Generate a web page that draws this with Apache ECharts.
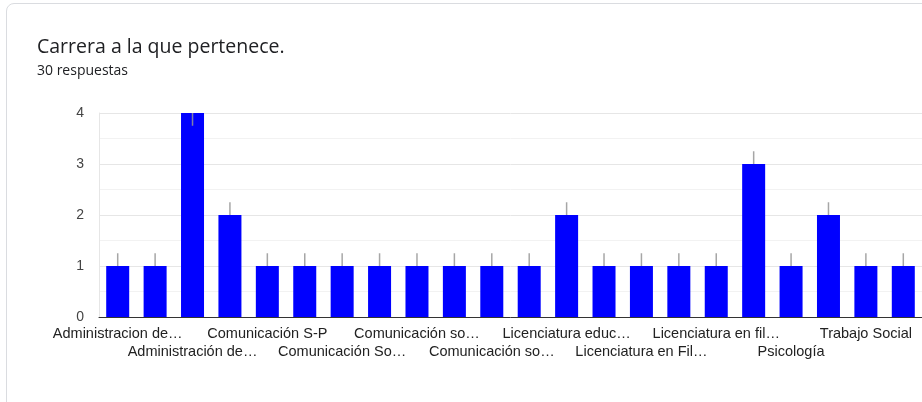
<!DOCTYPE html>
<html lang="es">
<head>
<meta charset="utf-8">
<title>Carrera a la que pertenece.</title>
<script src="https://cdn.jsdelivr.net/npm/echarts@6/dist/echarts.min.js"></script>
<style>
  html, body { margin: 0; padding: 0; background: #ffffff; overflow: hidden; }
  #card {
    position: absolute; left: 6px; top: 3px; width: 940px; height: 420px;
    border: 1px solid #dadce0; border-radius: 8px; box-sizing: border-box;
  }
  #chart { position: absolute; left: 0; top: 0; width: 922px; height: 402px; }
</style>
</head>
<body>
<div id="card"></div>
<div id="chart"></div>
<script>
// Answers to "Carrera a la que pertenece." (30 respuestas)
const categories = [
  'Administracion de empresas',
  'Administracion de negocios',
  'Administración de Empresas',
  'Administración de negocios',
  'Comunicación S-P',
  'Comunicación Social',
  'Comunicación Social - Periodismo',
  'Comunicación Social y Periodismo',
  'Comunicación social',
  'Comunicación social - periodismo',
  'Comunicación social y periodismo',
  'Licenciatura Educación Física',
  'Licenciatura educación infantil',
  'Licenciatura en Educación Infantil',
  'Licenciatura en Filosofía',
  'Licenciatura en Filosofía y Letras',
  'Licenciatura en filosofía',
  'Licenciatura en filosofía y letras',
  'Psicología',
  'Psicologia',
  'Trabajo Social',
  'Trabajo social'
];
const counts = [1, 1, 4, 2, 1, 1, 1, 1, 1, 1, 1, 1, 2, 1, 1, 1, 1, 3, 1, 2, 1, 1];
// Text shown under the axis (every other category, shortened)
const tickLabels = [
  'Administracion de…', '', 'Administración de…', '',
  'Comunicación S-P', '', 'Comunicación So…', '',
  'Comunicación so…', '', 'Comunicación so…', '',
  'Licenciatura educ…', '', 'Licenciatura en Fil…', '',
  'Licenciatura en fil…', '', 'Psicología', '',
  'Trabajo Social', ''
];
const yTicks = [0, 1, 2, 3, 4];

const Y_MAX = yTicks[yTicks.length - 1];
const WHISKER = 0.25;

const chart = echarts.init(document.getElementById('chart'), null, { renderer: 'canvas' });

chart.setOption({
  animation: false,
  title: {
    left: 37,
    top: 37,
    padding: 0,
    text: 'Carrera a la que pertenece.',
    textStyle: { fontFamily: 'Open Sans', fontSize: 19.5, fontWeight: 'normal', color: '#202124' },
    subtext: '30 respuestas',
    subtextStyle: { fontFamily: 'Open Sans', fontSize: 14, color: '#202124' },
    itemGap: 7
  },
  grid: { left: 99, top: 113, width: 827, height: 204, containLabel: false },
  xAxis: {
    type: 'category',
    data: categories,
    axisLine: { lineStyle: { color: '#333333', width: 1 } },
    axisTick: { show: false },
    axisLabel: {
      interval: 0,
      margin: 8,
      fontFamily: '"Liberation Sans", Arial, sans-serif',
      fontSize: 14.5,
      lineHeight: 18,
      color: '#222222',
      formatter: (value, idx) => (idx % 4 === 2 ? '\n' : '') + tickLabels[idx]
    }
  },
  yAxis: {
    type: 'value',
    min: yTicks[0],
    max: Y_MAX,
    interval: 1,
    axisLine: { show: true, lineStyle: { color: '#e6e6e6' } },
    axisTick: { show: false },
    axisLabel: {
      margin: 15,
      fontFamily: '"Liberation Sans", Arial, sans-serif',
      fontSize: 14,
      color: '#444444'
    },
    splitLine: { lineStyle: { color: '#e6e6e6', width: 1 } },
    minorTick: { show: false, splitNumber: 2 },
    minorSplitLine: { show: true, lineStyle: { color: '#f2f2f2', width: 1 } }
  },
  series: [
    {
      type: 'bar',
      data: counts,
      barWidth: 23,
      itemStyle: { color: '#0000ff' },
      z: 2
    },
    {
      type: 'custom',
      z: 3,
      data: counts.map((v, i) => [i, v]),
      renderItem: (params, api) => {
        const i = api.value(0);
        const v = api.value(1);
        let lo = v, hi = v + WHISKER;
        if (hi > Y_MAX) { hi = v; lo = v - WHISKER; }
        const p1 = api.coord([i, lo]);
        const p2 = api.coord([i, hi]);
        return {
          type: 'line',
          shape: { x1: p1[0], y1: p1[1], x2: p2[0], y2: p2[1] },
          style: { stroke: 'rgba(150,150,150,0.85)', lineWidth: 1.5 }
        };
      }
    }
  ]
});
</script>
</body>
</html>
